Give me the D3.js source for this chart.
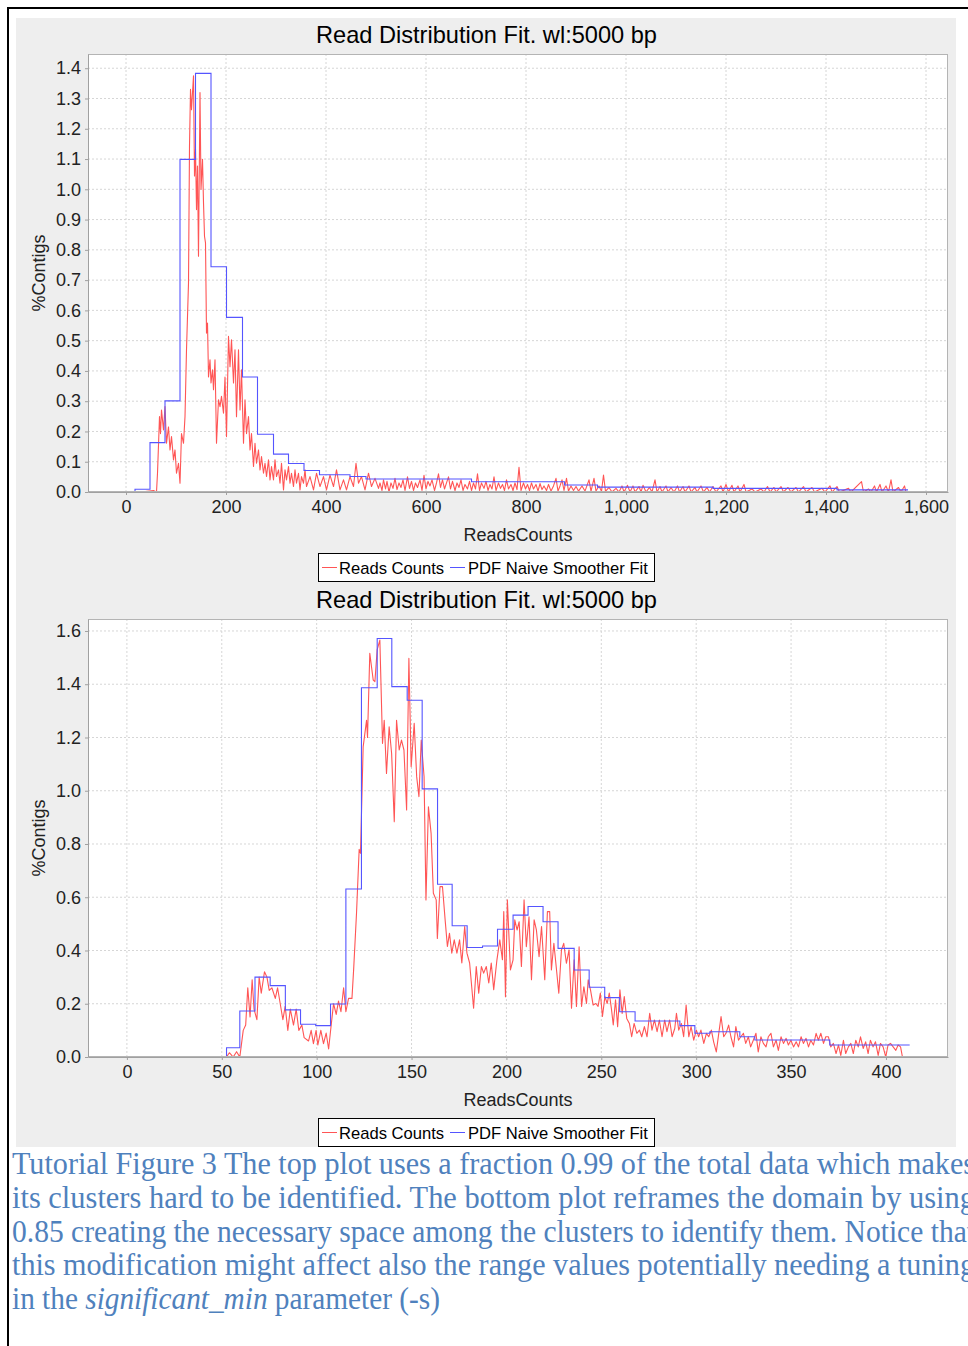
<!DOCTYPE html>
<html>
<head>
<meta charset="utf-8">
<script src="https://cdn.jsdelivr.net/npm/d3@7"></script>
<style>
	body { margin: 0; background: #fff; }
	svg { display: block; }
</style>
</head>
<body>
<div id="chart"></div>
<script>
// Texts
const chartTitle = 'Read Distribution Fit. wl:5000 bp';
const xAxisLabel = 'ReadsCounts';
const yAxisLabel = '%Contigs';
const seriesNames = ['Reads Counts', 'PDF Naive Smoother Fit'];

// Top plot (fraction 0.99)
const topXTicks = [0, 200, 400, 600, 800, 1000, 1200, 1400, 1600];
const topYTicks = [0, 0.1, 0.2, 0.3, 0.4, 0.5, 0.6, 0.7, 0.8, 0.9, 1.0, 1.1, 1.2, 1.3, 1.4];
const topXDomain = [-76, 1644];
const topYDomain = [0, 1.447];

const topFit = [[0,0],[18,0.009],[48,0.163],[78,0.301],[108,1.099],[139,1.383],[170,0.744],[201,0.577],[233,0.38],[263,0.191],
	[295,0.125],[325,0.094],[356,0.071],[387,0.057],[448,0.051],[480,0.043],[691,0.034],[877,0.023],[943,0.016],[1174,0.012],
	[1422,0.007],[1564,0.007]];

const topReads = [[0,0],[30,0],[55,0.005],[61,0],[63,0.062],[67,0.249],[69,0.193],[71,0.271],[75,0.205],[78,0.282],[81,0.161],
	[85,0.215],[88,0.139],[91,0.183],[95,0.106],[98,0.139],[101,0.062],[105,0.095],[108,0.029],[111,0.193],[115,0.161],[118,0.249],
	[121,0.47],[125,0.69],[127,1.143],[129,1.33],[131,1.263],[135,1.375],[137,1.044],[139,1.132],[141,0.933],[143,1.077],[145,0.779],
	[148,1.32],[150,1.0],[153,1.099],[155,0.956],[157,0.845],[159,0.823],[161,0.525],[163,0.558],[165,0.38],[168,0.437],[170,0.36],
	[173,0.404],[175,0.338],[178,0.437],[181,0.161],[185,0.305],[188,0.282],[191,0.316],[195,0.26],[198,0.38],[201,0.183],[205,0.514],
	[208,0.414],[211,0.503],[215,0.36],[218,0.47],[221,0.249],[225,0.47],[228,0.271],[231,0.404],[235,0.161],[238,0.305],[241,0.193],
	[245,0.249],[248,0.139],[251,0.193],[255,0.084],[258,0.161],[261,0.095],[265,0.139],[268,0.073],[271,0.117],[275,0.062],[278,0.095],
	[281,0.051],[285,0.106],[288,0.04],[291,0.084],[295,0.04],[298,0.106],[301,0.051],[305,0.073],[308,0.029],[311,0.095],[315,0.007],
	[318,0.073],[321,0.04],[325,0.084],[328,0.029],[331,0.062],[335,0.018],[338,0.073],[341,0.029],[345,0.062],[348,0.007],[351,0.051],
	[355,0.029],[358,0.073],[361,0.018],[368,0.051],[375,0.007],[381,0.062],[388,0.018],[395,0.051],[401,0.007],[408,0.056],[415,0.018],
	[421,0.073],[428,0.007],[435,0.04],[441,0.007],[448,0.051],[455,0.018],[460,0.095],[465,0.029],[471,0.051],[478,0.007],[485,0.062],
	[491,0.018],[498,0.045],[505,0.012],[508,0.03],[512,0.005],[515,0.04],[519,0.01],[522,0.035],[526,0],[530,0.03],[534,0.012],
	[538,0.045],[542,0.008],[546,0.03],[550,0.015],[554,0.04],[558,0.005],[563,0.05],[567,0.012],[571,0.035],[575,0.005],[579,0.03],
	[583,0.015],[588,0.04],[592,0.005],[596,0.055],[600,0.01],[604,0.035],[608,0.02],[612,0.04],[617,0.005],[621,0.03],[625,0.06],
	[629,0.015],[633,0.04],[637,0.01],[641,0.03],[645,0.05],[649,0.01],[653,0.035],[658,0.005],[662,0.03],[666,0.015],[670,0.04],
	[674,0.005],[678,0.025],[683,0.01],[687,0.035],[691,0.005],[695,0.03],[699,0.01],[703,0.06],[707,0.005],[711,0.03],[716,0.012],
	[720,0.035],[724,0.005],[728,0.025],[732,0.01],[736,0.05],[740,0.005],[745,0.03],[749,0.012],[753,0.025],[757,0.005],[761,0.04],
	[765,0.01],[770,0.025],[774,0.005],[778,0.03],[782,0.008],[786,0.082],[790,0.005],[795,0.03],[799,0.01],[803,0.025],[807,0.005],
	[811,0.03],[815,0.01],[820,0.025],[824,0.003],[828,0.028],[832,0.008],[836,0.02],[841,0.005],[845,0.025],[850,0.003],[855,0.02],
	[860,0.045],[864,0.003],[868,0.02],[872,0.04],[876,0.005],[881,0.045],[885,0.003],[890,0.02],[895,0.005],[900,0.018],[905,0.003],
	[912,0.02],[918,0.003],[926,0.04],[930,0.002],[936,0.045],[940,0.003],[946,0.02],[951,0.002],[955,0.056],[959,0.002],[966,0.015],
	[972,0],[980,0.012],[986,0],[992,0.02],[996,0],[1003,0.022],[1008,0],[1014,0.02],[1018,0],[1026,0.018],[1030,0],[1034,0.022],
	[1040,0],[1047,0.015],[1052,0],[1058,0.04],[1062,0],[1068,0.018],[1072,0],[1080,0.02],[1084,0],[1090,0.015],[1096,0],[1103,0.02],
	[1107,0],[1114,0.018],[1118,0],[1126,0.02],[1130,0],[1138,0.015],[1142,0],[1150,0.02],[1155,0],[1162,0.015],[1167,0],[1174,0.018],
	[1180,0],[1190,0.02],[1194,0],[1200,0.025],[1205,0],[1212,0.022],[1216,0],[1224,0.02],[1228,0],[1236,0.025],[1240,0],[1252,0.01],
	[1258,0],[1270,0.01],[1276,0],[1283,0.018],[1288,0],[1296,0.015],[1300,0],[1310,0.018],[1315,0],[1324,0.015],[1330,0],[1340,0.015],
	[1345,0],[1355,0.018],[1360,0],[1372,0.015],[1377,0],[1392,0.012],[1398,0],[1408,0.02],[1412,0],[1422,0.018],[1427,0],[1445,0.012],
	[1450,0],[1471,0.034],[1475,0],[1485,0.01],[1490,0],[1497,0.02],[1501,0],[1508,0.025],[1512,0],[1520,0.02],[1525,0],[1530,0.04],
	[1534,0],[1545,0.015],[1550,0],[1557,0.02],[1560,0]];

// Bottom plot (fraction 0.85)
const botXTicks = [0, 50, 100, 150, 200, 250, 300, 350, 400];
const botYTicks = [0, 0.2, 0.4, 0.6, 0.8, 1.0, 1.2, 1.4, 1.6];
const botXDomain = [-20.5, 432.7];
const botYDomain = [0, 1.645];

const botFit = [[0,0],[52.5,0.035],[59.5,0.173],[67.5,0.3],[75.5,0.268],[83.5,0.177],[91.5,0.123],[99.5,0.118],[107.3,0.199],
	[115.4,0.631],[123.6,1.387],[131.9,1.572],[139.6,1.391],[147.7,1.34],[155.6,1.007],[163.7,0.649],[171.4,0.493],[179.3,0.411],
	[187.4,0.417],[195.3,0.48],[203.5,0.533],[211.4,0.565],[219.3,0.508],[227.2,0.408],[235.7,0.327],[243.6,0.262],[251.8,0.223],
	[259.7,0.17],[267.8,0.135],[291.4,0.118],[299.3,0.089],[307.2,0.095],[323,0.076],[330.9,0.064],[370.4,0.045],[412.5,0.045]];

const botReads = [[0,0],[52.5,0],[54,0.016],[56,0],[57.8,0.02],[59.5,0],[61.3,0.1],[62.6,0.12],[63.7,0.26],[64.9,0.15],[66,0.29],
	[67,0.18],[68.5,0.14],[69.7,0.3],[70.8,0.24],[72.5,0.32],[73.8,0.3],[75,0.25],[76.4,0.26],[78.2,0.22],[79.4,0.26],[80.8,0.2],
	[82.2,0.14],[83.4,0.19],[84.8,0.1],[86.1,0.18],[87.8,0.12],[89.2,0.18],[90.6,0.1],[92.2,0.12],[93.4,0.073],[95.7,0.06],[97.1,0.1],
	[98.3,0.05],[99.7,0.1],[100.6,0.045],[102.2,0.1],[103.6,0.05],[105,0.09],[106.3,0.03],[107.5,0.11],[108.9,0.2],[110.3,0.16],
	[111.5,0.21],[112.8,0.17],[114.2,0.26],[115.4,0.17],[116.8,0.22],[118.6,0.22],[119.5,0.33],[121,0.54],[122.4,0.78],[123.1,0.765],
	[124.5,1.165],[126.3,1.265],[126.8,1.2],[128,1.516],[129.8,1.416],[130.7,1.41],[131.9,1.53],[133.3,1.566],[134.7,1.178],[135.6,1.265],
	[136.8,1.065],[138.2,1.24],[139.5,1.14],[140.9,0.884],[142.1,1.265],[143.5,1.153],[144.7,1.19],[146,1.153],[147.4,0.928],[148.6,1.497],
	[149.8,1.09],[151.4,1.253],[152.7,1.053],[153.9,0.978],[155.1,1.19],[156.6,1.053],[157.6,0.59],[158.9,0.94],[160.3,0.84],[161.5,0.615],
	[163,0.59],[163.6,0.445],[165,0.64],[166.3,0.64],[167.7,0.515],[168.9,0.415],[170,0.465],[171.2,0.39],[172.5,0.44],[173.9,0.39],
	[175.3,0.44],[176.5,0.353],[178,0.49],[179.2,0.39],[180.6,0.353],[182.7,0.183],[184.1,0.34],[185.4,0.24],[186.8,0.34],[188,0.315],
	[189.4,0.34],[190.7,0.278],[192,0.353],[193.3,0.253],[195,0.365],[196.5,0.44],[197.9,0.365],[198.6,0.546],[199.5,0.226],[200.5,0.59],
	[202.1,0.327],[203.5,0.365],[204.4,0.515],[205.6,0.477],[206.7,0.508],[207.9,0.34],[209.3,0.59],[210.5,0.414],[211.9,0.527],
	[213.2,0.29],[214.6,0.515],[215.8,0.477],[217.2,0.377],[218.5,0.49],[220.2,0.29],[221.6,0.546],[222.8,0.546],[223.7,0.327],
	[225,0.427],[226.4,0.327],[227.6,0.24],[229,0.402],[230.2,0.427],[231.6,0.352],[233,0.402],[234.3,0.183],[235.7,0.365],[236.9,0.19],
	[238.3,0.414],[239.6,0.19],[240.8,0.264],[242.2,0.201],[243.1,0.29],[244.3,0.252],[245.7,0.195],[247.1,0.201],[248.3,0.19],
	[249.5,0.24],[250.6,0.152],[251.9,0.227],[253.1,0.201],[254.2,0.24],[255.4,0.177],[256.3,0.12],[257.5,0.215],[258.6,0.114],
	[259.8,0.252],[261,0.164],[262.1,0.227],[263.4,0.145],[264.8,0.126],[266,0.076],[267.3,0.126],[268.7,0.089],[270.1,0.101],
	[271.3,0.076],[272.7,0.114],[274.1,0.076],[275.5,0.164],[276.7,0.101],[278,0.139],[279.4,0.095],[280.6,0.139],[282,0.076],
	[283.4,0.139],[284.6,0.095],[286,0.139],[287.3,0.076],[288.7,0.107],[289.6,0.164],[290.8,0.101],[292.2,0.126],[293.4,0.076],
	[294.7,0.195],[296.1,0.076],[297.3,0.114],[298.7,0.063],[300.1,0.101],[301.3,0.076],[302.5,0.101],[304,0.051],[305.4,0.089],
	[306.6,0.076],[308,0.101],[309.2,0.057],[310.6,0.019],[311.9,0.089],[313.1,0.152],[314.5,0.076],[315.7,0.089],[317.1,0.12],
	[318.3,0.076],[319.7,0.038],[320.9,0.114],[322.3,0.063],[323.5,0.076],[324.9,0.089],[326.1,0.051],[327.5,0.076],[328.7,0.038],
	[330.1,0.063],[331.5,0.089],[332.7,0.019],[334.1,0.076],[335.4,0.051],[336.8,0.038],[338,0.076],[339.4,0.089],[340.7,0.038],
	[342.1,0.063],[343.3,0.025],[344.7,0.076],[346,0.051],[347.4,0.07],[348.6,0.045],[349.9,0.063],[351.3,0.038],[352.7,0.057],
	[353.9,0.038],[355.3,0.076],[356.5,0.051],[357.9,0.07],[359.2,0.038],[360.4,0.063],[361.8,0.045],[363.2,0.089],[364.4,0.063],
	[365.7,0.089],[367.1,0.051],[368.3,0.076],[369.7,0.076],[370.9,0.038],[372.3,0.051],[373.7,0.013],[375,0.045],[376.2,0.006],
	[377.6,0.063],[378.8,0.013],[380.2,0.038],[381.5,0.051],[382.8,0.013],[384.1,0.063],[385.4,0.038],[386.6,0.076],[388,0.032],
	[389.3,0.057],[390.6,0.013],[391.8,0.063],[393.2,0.038],[394.5,0.057],[395.9,0.006],[397.1,0.051],[398.5,0.038],[399.9,0],
	[401.1,0.045],[402.4,0.051],[403.8,0.038],[405.2,0.025],[406.4,0.045],[407.7,0.038],[408.7,0]];

// Caption lines
const captionLines = [
	[{ t: 'Tutorial Figure 3 The top plot uses a fraction 0.99 of the total data which makes' }],
	[{ t: 'its clusters hard to be identified. The bottom plot reframes the domain by using' }],
	[{ t: '0.85 creating the necessary space among the clusters to identify them. Notice that' }],
	[{ t: 'this modification might affect also the range values potentially needing a tuning' }],
	[{ t: 'in the ' }, { t: 'significant_min', i: true }, { t: ' parameter (-s)' }]
];

// Layout
const width = 968, height = 1346;
const chartStep = 565;
const plotLeft = 88, plotRight = 948, plotTop = 54, plotBottom = 492;
const sans = '"Liberation Sans", Arial, Helvetica, sans-serif';
const redColor = '#ff5555', blueColor = '#5555ff';

const svg = d3.select('#chart').append('svg')
	.attr('width', width)
	.attr('height', height)
	.attr('viewBox', [0, 0, width, height]);

svg.append('rect').attr('width', width).attr('height', height).attr('fill', '#fff');

// outer frame (top and left rules)
svg.append('path')
	.attr('d', 'M8,' + height + 'V8H' + width)
	.attr('fill', 'none')
	.attr('stroke', '#000')
	.attr('stroke-width', 2);

// chart panels background
svg.append('rect')
	.attr('x', 16).attr('y', 18)
	.attr('width', 940).attr('height', 1129)
	.attr('fill', '#eeeeee');

function drawChart(idx, cfg) {
	const oy = idx * chartStep;
	const g = svg.append('g');

	const x = d3.scaleLinear().domain(cfg.xDomain).range([plotLeft, plotRight]);
	const y = d3.scaleLinear().domain(cfg.yDomain).range([oy + plotBottom, oy + plotTop]);

	// title
	g.append('text')
		.attr('x', 486.5).attr('y', oy + 43)
		.attr('text-anchor', 'middle')
		.style('font-family', sans).style('font-size', '23.6px').style('fill', '#000')
		.text(chartTitle);

	// plot background
	g.append('rect')
		.attr('x', plotLeft).attr('y', oy + plotTop)
		.attr('width', plotRight - plotLeft).attr('height', plotBottom - plotTop)
		.attr('fill', '#fff');

	// grid
	g.append('g').selectAll('line').data(cfg.xTicks).join('line')
		.attr('x1', (d) => x(d)).attr('x2', (d) => x(d))
		.attr('y1', oy + plotTop).attr('y2', oy + plotBottom)
		.attr('stroke', '#d6d6d6').attr('stroke-dasharray', '2,2');
	g.append('g').selectAll('line').data(cfg.yTicks).join('line')
		.attr('x1', plotLeft).attr('x2', plotRight)
		.attr('y1', (d) => y(d)).attr('y2', (d) => y(d))
		.attr('stroke', '#d6d6d6').attr('stroke-dasharray', '2,2');

	// series
	const clipId = 'clip' + idx;
	g.append('clipPath').attr('id', clipId)
		.append('rect')
		.attr('x', plotLeft).attr('y', oy + plotTop)
		.attr('width', plotRight - plotLeft).attr('height', plotBottom - plotTop);

	const line = d3.line().x((d) => x(d[0])).y((d) => y(d[1]));
	const stepLine = d3.line().x((d) => x(d[0])).y((d) => y(d[1])).curve(d3.curveStepAfter);

	const series = g.append('g').attr('clip-path', 'url(#' + clipId + ')');
	series.append('path')
		.attr('d', line(cfg.reads))
		.attr('fill', 'none').attr('stroke', redColor).attr('stroke-width', 1.1)
		.attr('stroke-linejoin', 'round');
	series.append('path')
		.attr('d', stepLine(cfg.fit))
		.attr('fill', 'none').attr('stroke', blueColor).attr('stroke-width', 1.1);

	// outline
	g.append('rect')
		.attr('x', plotLeft + 0.5).attr('y', oy + plotTop + 0.5)
		.attr('width', plotRight - plotLeft - 1).attr('height', plotBottom - plotTop - 1)
		.attr('fill', 'none').attr('stroke', '#b4b4b4');

	// axes
	const xAxis = g.append('g')
		.attr('transform', 'translate(0,' + (oy + plotBottom) + ')')
		.call(d3.axisBottom(x).tickValues(cfg.xTicks).tickFormat(d3.format(',')).tickSizeInner(3).tickSizeOuter(0).tickPadding(5));
	const yAxis = g.append('g')
		.attr('transform', 'translate(' + plotLeft + ',0)')
		.call(d3.axisLeft(y).tickValues(cfg.yTicks).tickFormat(d3.format('.1f')).tickSizeInner(3).tickSizeOuter(0).tickPadding(4));

	[xAxis, yAxis].forEach((a) => {
		a.select('.domain').attr('stroke', '#a0a0a0');
		a.selectAll('.tick line').attr('stroke', '#a0a0a0');
		a.selectAll('.tick text')
			.style('font-family', sans).style('font-size', '18px').style('fill', '#222');
	});

	// axis labels
	g.append('text')
		.attr('x', (plotLeft + plotRight) / 2).attr('y', oy + 541)
		.attr('text-anchor', 'middle')
		.style('font-family', sans).style('font-size', '18px').style('fill', '#222')
		.text(xAxisLabel);
	g.append('text')
		.attr('transform', 'translate(45,' + (oy + (plotTop + plotBottom) / 2) + ') rotate(-90)')
		.attr('text-anchor', 'middle')
		.style('font-family', sans).style('font-size', '18px').style('fill', '#222')
		.text(yAxisLabel);

	// legend
	const lg = g.append('g').attr('transform', 'translate(318,' + (oy + 553) + ')');
	lg.append('rect')
		.attr('x', 0.5).attr('y', 0.5).attr('width', 336).attr('height', 28)
		.attr('fill', '#fff').attr('stroke', '#000');
	const items = [
		{ name: seriesNames[0], color: redColor, lx: 4, tx: 21 },
		{ name: seriesNames[1], color: blueColor, lx: 132, tx: 150 }
	];
	items.forEach((it) => {
		lg.append('line')
			.attr('x1', it.lx).attr('x2', it.lx + 15)
			.attr('y1', 14.5).attr('y2', 14.5)
			.attr('stroke', it.color);
		lg.append('text')
			.attr('x', it.tx).attr('y', 20.5)
			.style('font-family', sans).style('font-size', '16.6px').style('fill', '#000')
			.text(it.name);
	});
}

drawChart(0, { xDomain: topXDomain, yDomain: topYDomain, xTicks: topXTicks, yTicks: topYTicks, reads: topReads, fit: topFit });
drawChart(1, { xDomain: botXDomain, yDomain: botYDomain, xTicks: botXTicks, yTicks: botYTicks, reads: botReads, fit: botFit });

// caption (the right end of the justified lines runs past the page edge, as in the original)
const captionBaselines = [1174, 1208, 1242, 1275, 1309];
const captionLengths = [963, 963, 963, 963, 428];
captionLines.forEach((parts, i) => {
	const t = svg.append('text')
		.attr('x', 12).attr('y', captionBaselines[i])
		.attr('textLength', captionLengths[i])
		.attr('lengthAdjust', 'spacingAndGlyphs')
		.style('font-family', '"Liberation Serif", "Times New Roman", serif')
		.style('font-size', '32px')
		.style('fill', '#4f81bd');
	parts.forEach((p) => {
		t.append('tspan').style('font-style', p.i ? 'italic' : 'normal').text(p.t);
	});
});
</script>
</body>
</html>
